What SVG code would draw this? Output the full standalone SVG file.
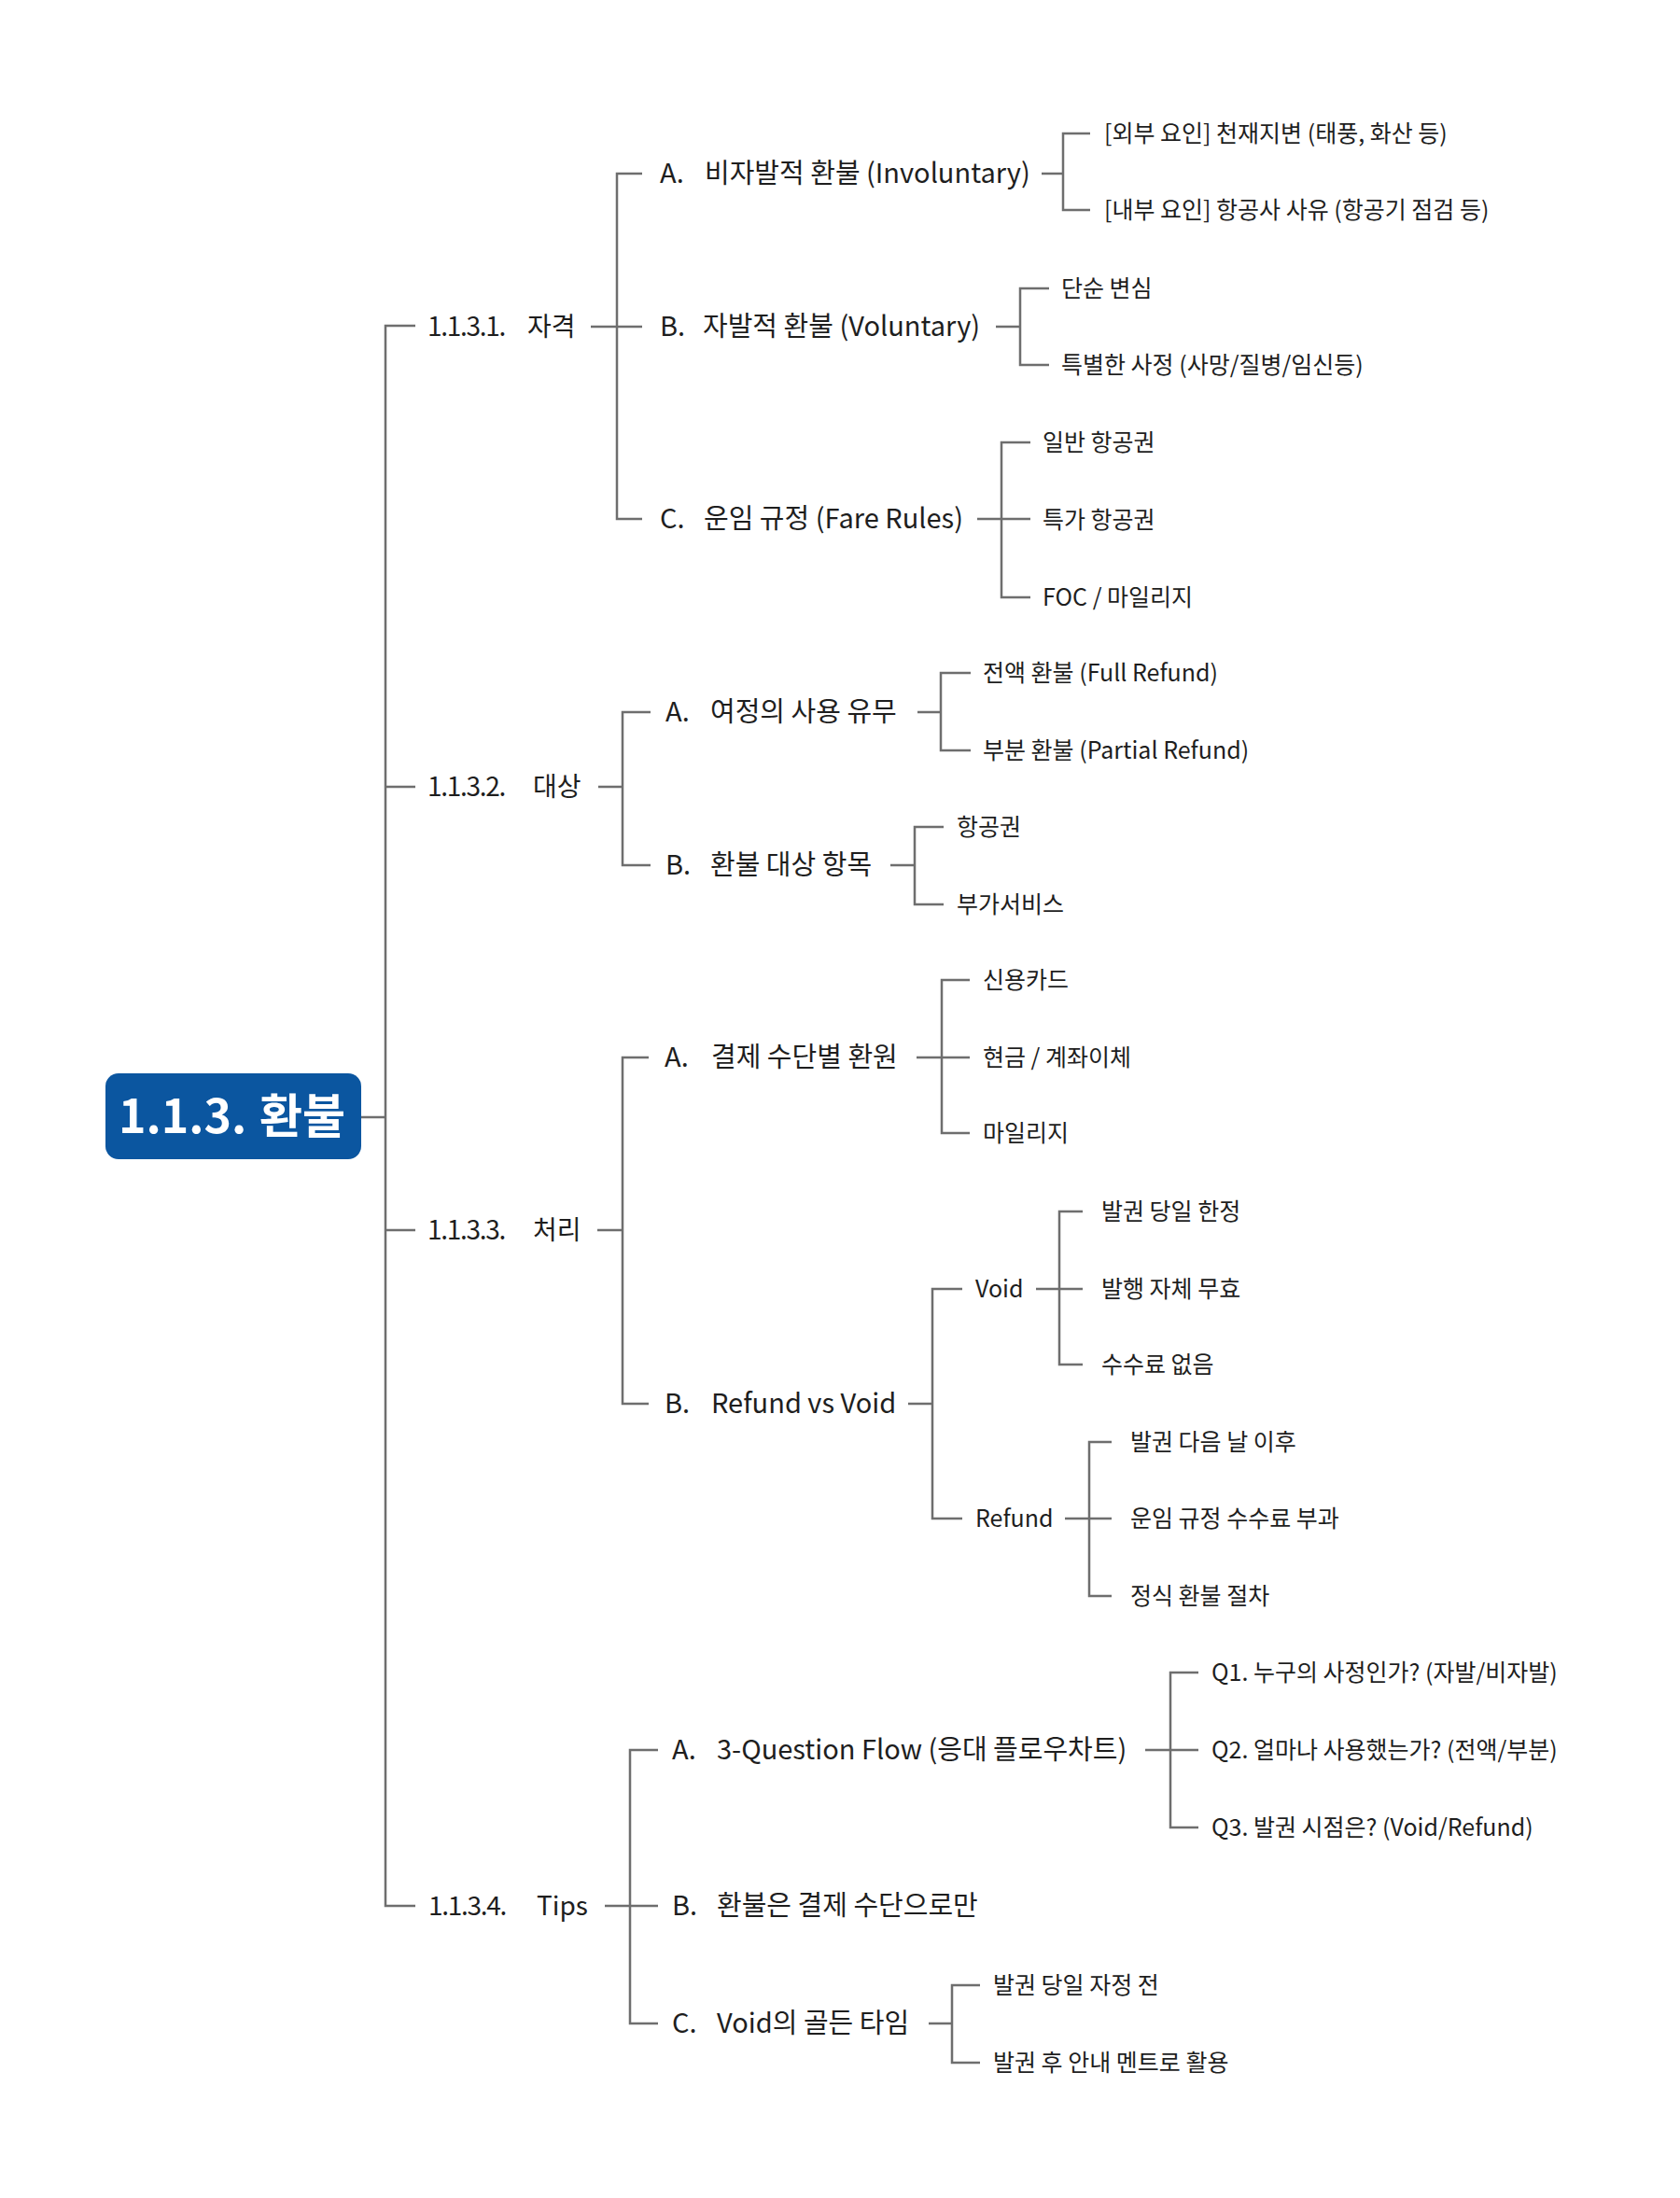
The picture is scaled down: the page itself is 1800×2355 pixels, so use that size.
<svg xmlns="http://www.w3.org/2000/svg" width="1800" height="2355" viewBox="0 0 1800 2355">
<style>
text{font-family:"Noto Sans CJK KR","Noto Sans",sans-serif;fill:#1e1e1e}
.l1{font-size:28px}
.num{letter-spacing:-1.3px}
.l2{font-size:29px}
.l3{font-size:25px}
.root{font-size:50px;font-weight:bold;fill:#ffffff}
.c{fill:none;stroke:#6e6e6e;stroke-width:2.5}
</style>
<rect width="1800" height="2355" fill="#ffffff"/>
<g id="connectors" class="c">
<path d="M386 1197H413"/>
<path d="M445 349H413V2042H445M413 843H445M413 1318H445"/>
<path d="M633 350H688M688 186H661V556H688"/>
<path d="M1116 186H1139M1168 143H1139V225H1168"/>
<path d="M1067 350H1093M1124 309H1093V391H1124"/>
<path d="M1047 556H1104M1104 474H1073V640H1104"/>
<path d="M641 843H667M697 763H667V927H697"/>
<path d="M983 763H1008M1040 721H1008V804H1040"/>
<path d="M954 927H980M1011 886H980V969H1011"/>
<path d="M640 1318H667M695 1133H667V1504H695"/>
<path d="M982 1133H1039M1039 1050H1009V1214H1039"/>
<path d="M973 1504H999M1031 1381H999V1627H1031"/>
<path d="M1110 1381H1160M1160 1298H1135V1462H1160"/>
<path d="M1141 1627H1191M1191 1545H1167V1710H1191"/>
<path d="M648 2042H705M705 1875H675V2168H705"/>
<path d="M1227 1875H1284M1284 1792H1254V1958H1284"/>
<path d="M995 2168H1020M1050 2127H1020V2210H1050"/>
</g>
<g id="root">
<rect x="113" y="1150" width="274" height="92" rx="14" fill="#0b56a0"/>
<text class="root" y="1214"><tspan x="127">1.1.3.</tspan><tspan x="278">환불</tspan></text>
</g>
<g id="n1"><text class="l1" y="360"><tspan class="num" x="458">1.1.3.1.</tspan><tspan x="565">자격</tspan></text></g>
<g id="n1a"><text class="l2" y="196"><tspan x="707">A.</tspan><tspan x="755">비자발적 환불 (Involuntary)</tspan></text></g>
<g id="n1a1"><text class="l3" x="1183" y="152">[외부 요인] 천재지변 (태풍, 화산 등)</text></g>
<g id="n1a2"><text class="l3" x="1183" y="234">[내부 요인] 항공사 사유 (항공기 점검 등)</text></g>
<g id="n1b"><text class="l2" y="360"><tspan x="707">B.</tspan><tspan x="753">자발적 환불 (Voluntary)</tspan></text></g>
<g id="n1b1"><text class="l3" x="1137" y="318">단순 변심</text></g>
<g id="n1b2"><text class="l3" x="1137" y="400">특별한 사정 (사망/질병/임신등)</text></g>
<g id="n1c"><text class="l2" y="566"><tspan x="707">C.</tspan><tspan x="754">운임 규정 (Fare Rules)</tspan></text></g>
<g id="n1c1"><text class="l3" x="1117" y="483">일반 항공권</text></g>
<g id="n1c2"><text class="l3" x="1117" y="566">특가 항공권</text></g>
<g id="n1c3"><text class="l3" x="1117" y="649">FOC / 마일리지</text></g>
<g id="n2"><text class="l1" y="853"><tspan class="num" x="458">1.1.3.2.</tspan><tspan x="571">대상</tspan></text></g>
<g id="n2a"><text class="l2" y="773"><tspan x="713">A.</tspan><tspan x="761">여정의 사용 유무</tspan></text></g>
<g id="n2a1"><text class="l3" x="1053" y="730">전액 환불 (Full Refund)</text></g>
<g id="n2a2"><text class="l3" x="1053" y="813">부분 환불 (Partial Refund)</text></g>
<g id="n2b"><text class="l2" y="937"><tspan x="713">B.</tspan><tspan x="761">환불 대상 항목</tspan></text></g>
<g id="n2b1"><text class="l3" x="1025" y="895">항공권</text></g>
<g id="n2b2"><text class="l3" x="1025" y="978">부가서비스</text></g>
<g id="n3"><text class="l1" y="1328"><tspan class="num" x="458">1.1.3.3.</tspan><tspan x="571">처리</tspan></text></g>
<g id="n3a"><text class="l2" y="1143"><tspan x="712">A.</tspan><tspan x="762">결제 수단별 환원</tspan></text></g>
<g id="n3a1"><text class="l3" x="1053" y="1059">신용카드</text></g>
<g id="n3a2"><text class="l3" x="1053" y="1142">현금 / 계좌이체</text></g>
<g id="n3a3"><text class="l3" x="1053" y="1223">마일리지</text></g>
<g id="n3b"><text class="l2" y="1514"><tspan x="712">B.</tspan><tspan x="762">Refund vs Void</tspan></text></g>
<g id="n3b1"><text class="l3" x="1045" y="1390">Void</text></g>
<g id="n3b1a"><text class="l3" x="1180" y="1307">발권 당일 한정</text></g>
<g id="n3b1b"><text class="l3" x="1180" y="1390">발행 자체 무효</text></g>
<g id="n3b1c"><text class="l3" x="1180" y="1471">수수료 없음</text></g>
<g id="n3b2"><text class="l3" x="1045" y="1636">Refund</text></g>
<g id="n3b2a"><text class="l3" x="1211" y="1554">발권 다음 날 이후</text></g>
<g id="n3b2b"><text class="l3" x="1211" y="1636">운임 규정 수수료 부과</text></g>
<g id="n3b2c"><text class="l3" x="1211" y="1719">정식 환불 절차</text></g>
<g id="n4"><text class="l1" y="2052"><tspan class="num" x="459">1.1.3.4.</tspan><tspan x="575">Tips</tspan></text></g>
<g id="n4a"><text class="l2" y="1885"><tspan x="720">A.</tspan><tspan x="768">3-Question Flow (응대 플로우차트)</tspan></text></g>
<g id="n4a1"><text class="l3" x="1298" y="1801">Q1. 누구의 사정인가? (자발/비자발)</text></g>
<g id="n4a2"><text class="l3" x="1298" y="1884">Q2. 얼마나 사용했는가? (전액/부분)</text></g>
<g id="n4a3"><text class="l3" x="1298" y="1967">Q3. 발권 시점은? (Void/Refund)</text></g>
<g id="n4b"><text class="l2" y="2052"><tspan x="720">B.</tspan><tspan x="768">환불은 결제 수단으로만</tspan></text></g>
<g id="n4c"><text class="l2" y="2178"><tspan x="720">C.</tspan><tspan x="768">Void의 골든 타임</tspan></text></g>
<g id="n4c1"><text class="l3" x="1064" y="2136">발권 당일 자정 전</text></g>
<g id="n4c2"><text class="l3" x="1064" y="2219">발권 후 안내 멘트로 활용</text></g>
</svg>
